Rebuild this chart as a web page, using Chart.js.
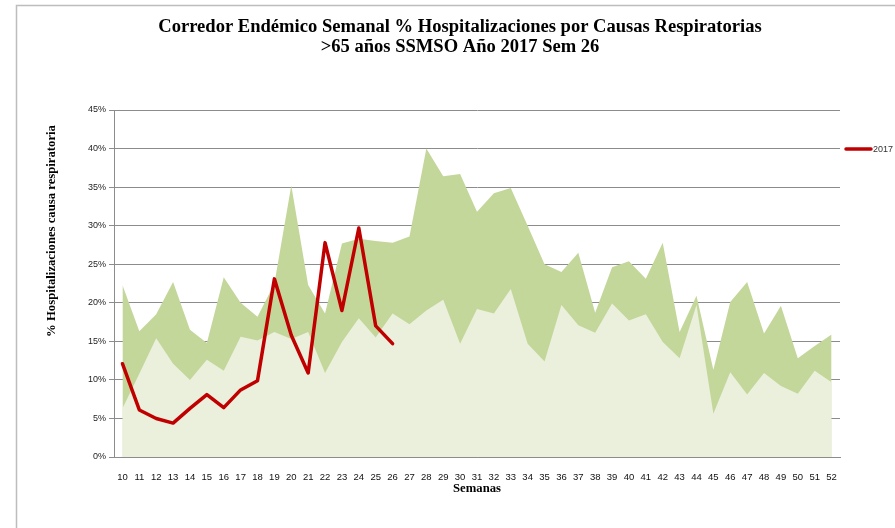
<!DOCTYPE html>
<html>
<head>
<meta charset="utf-8">
<script src="https://cdn.jsdelivr.net/npm/chart.js@4/dist/chart.umd.min.js"></script>
<style>
html,body{margin:0;padding:0;background:#fff;}
#wrap{position:relative;width:895px;height:528px;}
</style>
</head>
<body>
<div id="wrap"><canvas id="c" width="895" height="528"></canvas></div>
<script>
const weeks = [10,11,12,13,14,15,16,17,18,19,20,21,22,23,24,25,26,27,28,29,30,31,32,33,34,35,36,37,38,39,40,41,42,43,44,45,46,47,48,49,50,51,52];
const upperZone = [22.3,16.3,18.5,22.7,16.5,14.8,23.3,20.0,18.2,22.5,35.2,22.3,18.6,27.7,28.3,28.0,27.8,28.6,40.0,36.4,36.7,31.8,34.2,34.9,30.0,25.0,24.0,26.5,18.7,24.6,25.4,23.1,27.8,16.2,20.9,11.3,20.1,22.7,16.0,19.6,12.8,14.4,15.9];
const lowerZone = [6.3,10.8,15.4,12.1,10.0,12.6,11.2,15.6,15.1,16.2,15.3,16.2,10.9,14.9,18.0,15.5,18.6,17.2,19.0,20.4,14.7,19.2,18.6,21.8,14.7,12.4,19.7,17.1,16.1,19.9,17.7,18.5,14.9,12.8,19.7,5.6,11.0,8.1,10.9,9.2,8.2,11.2,9.7];
const values2017 = [12.1,6.1,5.0,4.4,6.3,8.1,6.4,8.7,9.9,23.1,15.8,10.9,27.8,19.0,29.7,17.0,14.7];
const yTicks = [0,5,10,15,20,25,30,35,40,45];
const titleLines = ['Corredor Endémico Semanal % Hospitalizaciones por Causas Respiratorias','>65 años SSMSO Año 2017 Sem 26'];
const yTitle = '% Hospitalizaciones causa respiratoria';
const xTitle = 'Semanas';
const seriesName = '2017';

const serif = '"Liberation Serif", "DejaVu Serif", serif';
const sans = '"Liberation Sans", Arial, sans-serif';

function fitFont(ctx, text, width, weight, family, base) {
  ctx.font = weight + ' ' + base + 'px ' + family;
  const w = ctx.measureText(text).width;
  return base * width / w;
}

const decor = {
  id: 'decor',
  beforeDraw(chart) {
    const ctx = chart.ctx;
    ctx.save();
    ctx.strokeStyle = '#BDBDBD';
    ctx.lineWidth = 1.5;
    ctx.beginPath();
    ctx.moveTo(16.5, 528);
    ctx.lineTo(16.5, 5.5);
    ctx.lineTo(895, 5.5);
    ctx.stroke();
    ctx.restore();
  },
  afterDraw(chart) {
    const ctx = chart.ctx;
    const ca = chart.chartArea;
    ctx.save();
    ctx.fillStyle = '#000';
    ctx.textAlign = 'center';
    ctx.textBaseline = 'middle';
    let fs = fitFont(ctx, titleLines[0], 604, 'bold', serif, 16);
    ctx.font = 'bold ' + fs + 'px ' + serif;
    ctx.fillText(titleLines[0], 460, 27);
    ctx.fillText(titleLines[1], 460, 47);

    fs = fitFont(ctx, yTitle, 212, 'bold', serif, 11);
    ctx.font = 'bold ' + fs + 'px ' + serif;
    ctx.save();
    ctx.translate(52, 231);
    ctx.rotate(-Math.PI / 2);
    ctx.fillText(yTitle, 0, 0);
    ctx.restore();

    fs = fitFont(ctx, xTitle, 48, 'bold', serif, 11);
    ctx.font = 'bold ' + fs + 'px ' + serif;
    ctx.fillText(xTitle, (ca.left + ca.right) / 2, 489);

    // legend
    const ds = chart.data.datasets[0];
    ctx.strokeStyle = ds.borderColor;
    ctx.lineWidth = 3.5;
    ctx.lineCap = 'round';
    ctx.beginPath();
    ctx.moveTo(846, 149);
    ctx.lineTo(871, 149);
    ctx.stroke();
    ctx.fillStyle = '#333';
    ctx.textAlign = 'left';
    ctx.font = '9px ' + sans;
    ctx.fillText(ds.label, 873, 149.5);
    ctx.restore();
  }
};

new Chart(document.getElementById('c'), {
  type: 'line',
  data: {
    labels: weeks.map(String),
    datasets: [
      {
        label: seriesName,
        data: values2017,
        borderColor: '#C00000',
        borderWidth: 3.5,
        borderJoinStyle: 'round',
        borderCapStyle: 'round',
        pointRadius: 0,
        tension: 0,
        fill: false,
        order: 1
      },
      {
        label: 'Seguridad',
        data: lowerZone,
        borderWidth: 0,
        borderColor: 'rgba(0,0,0,0)',
        backgroundColor: '#EBF0DD',
        pointRadius: 0,
        tension: 0,
        fill: 'origin',
        order: 2
      },
      {
        label: 'Alerta',
        data: upperZone,
        borderWidth: 0,
        borderColor: 'rgba(0,0,0,0)',
        backgroundColor: '#C4D79B',
        pointRadius: 0,
        tension: 0,
        fill: 'origin',
        order: 3
      }
    ]
  },
  options: {
    responsive: false,
    animation: false,
    events: [],
    layout: { padding: { left: 0, right: 55, top: 110, bottom: 0 } },
    plugins: {
      legend: { display: false },
      title: { display: false },
      tooltip: { enabled: false }
    },
    scales: {
      x: {
        offset: true,
        grid: { display: false },
        border: { display: true, color: '#8C8C8C', width: 1 },
        ticks: { color: '#111', font: { family: sans, size: 9.5 }, padding: 7, maxRotation: 0, autoSkip: false },
        afterFit(s) { s.height = 71; }
      },
      y: {
        min: 0,
        max: 45,
        afterBuildTicks(s) { s.ticks = yTicks.map(v => ({ value: v })); },
        grid: { color: '#8C8C8C', lineWidth: 1, drawTicks: true, tickLength: 5, tickColor: '#8C8C8C' },
        border: { display: true, color: '#8C8C8C', width: 1 },
        ticks: { color: '#222', font: { family: sans, size: 9 }, padding: 3, callback: v => v + '%' },
        afterFit(s) { s.width = 114; }
      }
    }
  },
  plugins: [decor]
});
</script>
</body>
</html>
